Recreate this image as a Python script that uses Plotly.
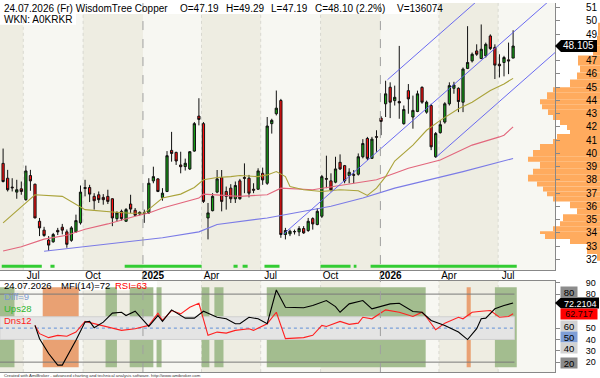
import plotly.graph_objects as go
import pandas as pd

# ---------------- data ----------------
last_date = "2026-07-24"
opens = [39.24, 38.12, 37.45, 37.07, 37.32, 36.50, 38.32, 37.67, 34.87, 34.20,
         33.45, 33.32, 34.18, 34.42, 34.07, 33.43, 34.07, 34.75, 37.42, 37.42,
         36.75, 36.87, 36.67, 36.75, 36.57, 35.07, 35.62, 34.87, 36.17, 35.70,
         35.42, 35.50, 35.50, 37.92, 38.07, 36.67, 37.12, 40.22, 40.07, 39.12,
         39.00, 38.82, 40.17, 42.81, 42.24, 35.12, 35.67, 37.07, 38.17, 37.12,
         37.37, 36.57, 37.92, 38.17, 38.12, 37.29, 37.29, 38.49, 37.74, 42.24,
         42.99, 43.99, 33.87, 33.92, 34.10, 34.07, 34.32, 34.17, 35.07, 34.62,
         35.25, 38.10, 37.92, 37.82, 39.32, 39.07, 38.32, 38.39, 38.42, 39.74,
         41.12, 39.62, 41.26, 42.66, 43.74, 44.99, 43.98, 43.91, 42.24, 44.73,
         42.74, 43.16, 44.98, 43.11, 43.61, 39.74, 41.56, 42.36, 43.74, 44.91,
         44.91, 43.86, 46.41, 46.98, 47.73, 47.16, 47.36, 48.86, 48.00, 46.73,
         46.86, 47.06, 47.19]
highs = [40.36, 38.75, 38.12, 38.00, 37.87, 39.07, 38.75, 37.70, 35.12, 34.45,
         33.75, 33.99, 34.37, 34.67, 34.25, 34.50, 35.37, 37.57, 38.00, 37.62,
         36.99, 37.12, 36.92, 37.25, 36.60, 35.62, 35.75, 35.87, 36.87, 35.87,
         35.62, 35.75, 38.12, 38.99, 38.12, 37.37, 40.17, 41.62, 40.12, 40.12,
         39.60, 40.17, 42.36, 44.16, 42.36, 36.25, 36.99, 38.74, 38.74, 37.49,
         37.67, 37.87, 38.07, 39.24, 38.37, 37.74, 38.87, 38.92, 42.74, 42.61,
         44.74, 44.11, 34.37, 34.24, 34.24, 34.50, 34.50, 35.12, 35.17, 35.87,
         38.37, 39.82, 38.49, 39.74, 39.92, 39.12, 38.87, 38.74, 39.99, 41.07,
         41.24, 41.24, 41.74, 42.81, 45.48, 45.36, 45.11, 48.11, 43.61, 45.23,
         44.36, 44.73, 45.06, 43.98, 43.74, 41.61, 42.49, 43.86, 45.36, 45.40,
         44.98, 46.48, 49.60, 47.61, 48.23, 49.73, 48.36, 48.98, 48.23, 47.48,
         47.36, 48.36, 49.29]
lows = [37.80, 37.12, 37.12, 36.57, 36.87, 36.42, 37.17, 35.10, 33.75, 33.70,
        32.63, 33.25, 33.83, 33.88, 32.87, 33.32, 34.00, 34.62, 36.75, 36.32,
        35.75, 36.25, 36.12, 36.17, 34.50, 34.87, 34.92, 34.82, 35.50, 35.25,
        35.32, 34.75, 35.42, 37.74, 37.07, 36.42, 37.07, 39.37, 39.12, 38.49,
        38.70, 38.74, 40.12, 42.11, 36.25, 33.50, 35.62, 36.99, 35.62, 35.75,
        36.25, 36.25, 36.50, 36.99, 36.67, 36.99, 37.25, 37.62, 37.62, 41.49,
        42.86, 33.62, 33.50, 33.75, 33.87, 33.75, 33.92, 34.07, 34.24, 34.57,
        35.12, 37.37, 37.12, 37.74, 38.74, 37.74, 37.74, 37.74, 38.32, 39.62,
        39.49, 39.57, 40.12, 41.37, 42.74, 42.66, 43.61, 42.61, 42.16, 42.99,
        41.86, 43.11, 43.74, 42.99, 40.24, 39.66, 41.49, 42.24, 43.61, 44.50,
        43.11, 43.11, 46.36, 46.86, 47.36, 47.11, 47.23, 47.80, 45.61, 45.73,
        45.81, 45.98, 47.19]
closes = [37.87, 37.25, 37.40, 37.25, 37.12, 38.67, 37.92, 35.12, 34.37, 33.80,
          33.07, 33.87, 34.07, 34.20, 33.13, 34.37, 34.92, 37.07, 37.35, 36.92,
          36.42, 36.50, 36.50, 36.37, 35.12, 35.50, 35.07, 35.75, 35.79, 35.32,
          35.54, 35.47, 37.74, 38.24, 37.12, 36.99, 39.82, 39.99, 39.42, 38.99,
          39.25, 40.12, 42.24, 42.56, 36.37, 35.50, 36.75, 38.07, 36.37, 36.75,
          36.57, 37.57, 36.57, 38.12, 36.99, 37.22, 38.67, 37.99, 42.06, 42.49,
          43.41, 33.87, 34.17, 34.12, 34.08, 34.32, 33.99, 34.87, 34.67, 35.62,
          38.24, 38.05, 37.24, 38.82, 38.82, 37.92, 38.57, 38.35, 39.74, 40.74,
          39.62, 41.07, 41.22, 42.41, 44.49, 43.86, 44.23, 43.81, 43.31, 44.11,
          43.24, 44.49, 43.86, 43.86, 40.49, 41.49, 42.16, 43.74, 45.11, 45.16,
          43.91, 46.36, 46.86, 47.48, 47.48, 47.86, 48.23, 47.91, 46.66, 46.61,
          47.23, 46.98, 48.10]

# moving averages (bar index, value)
ma_fast_idx = [0, 7, 13, 18, 24, 28, 31, 35, 39, 42, 44, 47, 50, 52, 56, 58, 60, 62, 63, 66,
               70, 74, 78, 80, 82, 84, 86, 90, 93, 96, 100, 103, 107, 110, 112]
ma_fast_val = [34.75, 36.87, 36.75, 35.75, 35.57, 35.47, 35.49, 36.62, 36.92, 37.42, 38.00,
               38.17, 38.24, 38.32, 38.24, 38.37, 38.62, 38.24, 37.49, 37.25, 37.12, 37.25,
               37.17, 36.82, 37.37, 38.24, 39.42, 40.62, 41.74, 42.49, 43.36, 43.86, 44.74,
               45.24, 45.66]
ma_mid_idx = [0, 4, 9, 14, 18, 23, 29, 32, 35, 39, 43, 44, 47, 52, 58, 61, 68, 75, 82, 86,
              89, 96, 103, 109, 110, 112]
ma_mid_val = [32.63, 32.95, 33.52, 33.82, 34.27, 34.67, 35.25, 35.49, 35.87, 36.24, 36.62,
              36.92, 36.87, 36.75, 36.87, 37.37, 37.25, 37.62, 38.00, 38.49, 38.87, 39.49,
              40.62, 41.24, 41.37, 41.99]
ma_slow_idx = [9, 19, 29, 35, 43, 47, 58, 64, 72, 79, 86, 101, 112]
ma_slow_val = [32.60, 33.00, 33.37, 33.62, 34.07, 34.63, 35.12, 35.49, 36.00, 36.62, 37.37,
               38.62, 39.61]

# trend channel (bar index, value) pairs
chan_upper = [(84.4, 45.55), (121.5, 56.76)]
chan_mid = [(61.5, 33.88), (121.5, 51.99)]
chan_lower = [(95.2, 39.74), (121.5, 47.70)]

# green signal strip (bar index spans)
strip_spans = [(-0.3, 8.5), (10.4, 11.3), (26.7, 43.6), (50.6, 51.5), (52.6, 53.7),
               (57.4, 60.7), (69.7, 76.3), (77.0, 77.6), (80.7, 112.8)]

# volume-at-price profile
profile_levels = [49.85, 48.88, 48.13, 47.38, 46.63, 46.11, 45.58, 44.99, 44.61, 44.09,
                  43.71, 43.33, 42.89, 42.51, 42.14, 41.76, 41.46, 41.09, 40.71, 40.26,
                  39.74, 39.37, 38.84, 38.39, 37.87, 37.50, 37.12, 36.75, 36.37, 35.85,
                  35.40, 34.87, 34.50, 34.12, 33.90, 33.53, 33.15, 32.40, 31.88]
profile_vol = [2, 3, 7, 22, 20, 23, 30, 47, 53, 60, 58, 52, 47, 40, 33, 30, 43, 47, 60, 67,
               72, 60, 67, 72, 63, 57, 53, 47, 30, 23, 37, 40, 47, 60, 55, 30, 13, 3]

# lower pane: MFI / RSI (bar index, value)
mfi_idx = [7, 8, 10, 12, 13, 14, 16, 18, 19, 20, 22, 24, 26, 27, 29, 32, 34, 35, 37, 40, 42,
           44, 47, 49, 51, 52, 54, 56, 58, 60, 62, 66, 68, 71, 73, 74, 76, 79, 81, 85, 87,
           90, 92, 94, 97, 100, 102, 104, 105, 106, 108, 110, 112]
mfi_val = [52.4, 40.7, 27.6, 17.4, 17.4, 24.6, 39.3, 55.3, 55.9, 50.4, 55.3, 63.2, 64.0, 61.1,
           64.9, 51.5, 61.1, 55.9, 66.1, 58.8, 58.8, 64.9, 59.6, 58.2, 53.9, 53.9, 59.6, 58.2,
           53.9, 83.6, 68.4, 68.0, 69.9, 74.3, 69.0, 64.0, 71.4, 74.3, 67.0, 71.4, 71.9, 64.6,
           64.0, 56.8, 52.4, 46.5, 39.9, 49.5, 58.2, 58.8, 67.0, 69.9, 72.2]
rsi_idx = [7, 8, 10, 12, 14, 16, 18, 20, 22, 24, 26, 29, 32, 34, 35, 37, 39, 41, 43, 45, 47,
           49, 51, 54, 55, 58, 60, 62, 66, 68, 70, 71, 74, 76, 78, 79, 81, 84, 87, 90, 92,
           93, 95, 97, 100, 101, 103, 105, 107, 109, 111, 112]
rsi_val = [52.4, 45.1, 41.6, 43.6, 42.8, 46.5, 55.9, 53.9, 51.5, 49.5, 48.0, 49.5, 52.4, 63.2,
           56.8, 65.5, 62.6, 68.4, 71.9, 43.6, 46.5, 45.6, 48.0, 49.5, 48.0, 53.9, 64.0, 40.7,
           41.6, 43.6, 52.4, 51.5, 55.9, 53.3, 54.4, 59.6, 58.2, 66.1, 64.0, 60.3, 64.0, 59.6,
           48.6, 54.4, 59.6, 58.2, 64.0, 64.9, 65.5, 59.6, 60.3, 62.7]
green_spans = [(-0.7, 2.5), (22.5, 25.0), (27.8, 33.0), (33.7, 34.8), (43.6, 45.3),
               (46.4, 48.4), (57.9, 92.8), (108.0, 112.8)]
orange_spans = [(8.7, 16.6), (101.8, 102.7)]

tick_dates = ["2024-07-01", "2024-10-01", "2025-01-01", "2025-04-01", "2025-07-01",
              "2025-10-01", "2026-01-01", "2026-04-01", "2026-07-01"]
tick_text = ["Jul", "Oct", "<b>2025</b>", "Apr", "Jul", "Oct", "<b>2026</b>", "Apr", "Jul"]
price_ticks = [32, 33, 34, 35, 36, 37, 38, 39, 40, 41, 42, 43, 44, 45, 46, 47, 49, 50, 51]
osc_ticks = [20, 30, 40, 50, 80, 90]

# ---------------- helpers ----------------
N = len(opens)
end = pd.Timestamp(last_date)
dates = [end - pd.Timedelta(weeks=N - 1 - i) for i in range(N)]


def at(i):
    return (dates[0] + pd.Timedelta(days=7 * i)).strftime("%Y-%m-%d %H:%M")


FONT = "Liberation Sans, Arial, sans-serif"
W, H = 600, 378
XD = 555 / W
PRICE_DOM = [1 - 269 / H, 1.0]
LOW_DOM = [1 - 372 / H, 1 - 280 / H]
LIGHT = "#f7f7f2"
BEIGE = "#eeede2"


def px(x):
    return x / W


def py(y):
    return 1 - y / H


fig = go.Figure()

fig.add_trace(go.Candlestick(
    x=dates, open=opens, high=highs, low=lows, close=closes,
    xaxis="x", yaxis="y",
    increasing=dict(line=dict(color="#111111", width=1), fillcolor="#16a016"),
    decreasing=dict(line=dict(color="#111111", width=1), fillcolor="#ff1010"),
    hoverinfo="skip"))

for idx, val, col in [(ma_slow_idx, ma_slow_val, "#7b7be6"),
                      (ma_mid_idx, ma_mid_val, "#e2667c"),
                      (ma_fast_idx, ma_fast_val, "#aaa33a")]:
    fig.add_trace(go.Scatter(x=[at(i) for i in idx], y=val, mode="lines",
                             line=dict(color=col, width=1.1), xaxis="x", yaxis="y",
                             hoverinfo="skip"))

for ch in (chan_upper, chan_mid, chan_lower):
    fig.add_trace(go.Scatter(x=[at(p[0]) for p in ch], y=[p[1] for p in ch], mode="lines",
                             line=dict(color="#5a5af0", width=0.9), xaxis="x", yaxis="y",
                             hoverinfo="skip"))

sx, sy = [], []
for a, b in strip_spans:
    sx += [at(a), at(b), None]
    sy += [31.47, 31.47, None]
fig.add_trace(go.Scatter(x=sx, y=sy, mode="lines", line=dict(color="#33cc33", width=3),
                         xaxis="x", yaxis="y", hoverinfo="skip"))

fig.add_trace(go.Scatter(x=[at(i) for i in rsi_idx], y=rsi_val, mode="lines",
                         line=dict(color="#ff2020", width=1.1), xaxis="x2", yaxis="y2",
                         hoverinfo="skip"))
fig.add_trace(go.Scatter(x=[at(i) for i in mfi_idx], y=mfi_val, mode="lines",
                         line=dict(color="#000000", width=1.1), xaxis="x2", yaxis="y2",
                         hoverinfo="skip"))

shapes = []
# quarter background bands
q = pd.date_range("2024-04-01", "2026-10-01", freq="QS")
for k in range(len(q) - 1):
    if q[k].month in (4, 10):
        for dom in (PRICE_DOM, LOW_DOM):
            shapes.append(dict(type="rect", xref="x", yref="paper", x0=q[k], x1=q[k + 1],
                               y0=dom[0], y1=dom[1], fillcolor=BEIGE, line_width=0,
                               layer="below"))
# white title backgrounds
shapes.append(dict(type="rect", xref="paper", yref="paper", x0=0, x1=px(437), y0=py(11),
                   y1=1, fillcolor="white", line_width=0, layer="below"))
shapes.append(dict(type="rect", xref="paper", yref="paper", x0=0, x1=px(76), y0=py(22),
                   y1=py(11), fillcolor="white", line_width=0, layer="below"))
shapes.append(dict(type="rect", xref="paper", yref="paper", x0=0, x1=px(157), y0=py(289.5),
                   y1=py(280.5), fillcolor="white", line_width=0, layer="below"))
# volume profile
vmax = max(profile_vol)
for k, v in enumerate(profile_vol):
    shapes.append(dict(type="rect", xref="paper", yref="y", x0=1 - (v / vmax) * (72 / W), x1=1,
                       y0=profile_levels[k + 1], y1=profile_levels[k],
                       fillcolor="#ffab5e", line_width=0, layer="below"))
# quarter grid lines
for d in tick_dates:
    yr = d.endswith("01-01")
    if yr:
        shapes.append(dict(type="line", xref="x", yref="paper", x0=d, x1=d, y0=LOW_DOM[0],
                           y1=1, line=dict(color="#a0a0a0", width=1, dash="dash")))
    else:
        for dom in (PRICE_DOM, LOW_DOM):
            shapes.append(dict(type="line", xref="x", yref="paper", x0=d, x1=d, y0=dom[0],
                               y1=dom[1], line=dict(color="#d8d8d0", width=1, dash="dot"),
                               layer="below"))
# lower pane zones
for a, b in green_spans:
    shapes.append(dict(type="rect", xref="x2", yref="y2", x0=at(a), x1=at(b), y0=15.4, y1=86,
                       fillcolor="#a3bd8f", line_width=0, layer="below"))
for a, b in orange_spans:
    shapes.append(dict(type="rect", xref="x2", yref="y2", x0=at(a), x1=at(b), y0=15.4, y1=86,
                       fillcolor="#e9a173", line_width=0, layer="below"))
shapes.append(dict(type="rect", xref="x2", yref="y2", x0=at(-0.7), x1=at(112.3), y0=40, y1=60,
                   fillcolor="#e4e4e4", line=dict(color="#d0d0d0", width=1), layer="below"))
for lvl in (80, 20):
    shapes.append(dict(type="line", xref="x2", yref="y2", x0=at(-0.7), x1=at(112.3), y0=lvl,
                       y1=lvl, line=dict(color="#7a7a7a", width=1), layer="below"))
shapes.append(dict(type="line", xref="x2", yref="y2", x0=at(-0.7), x1=at(112.3), y0=50, y1=50,
                   line=dict(color="#5f8fd8", width=1, dash="dot"), layer="below"))
# value marker arrows
last_close_lbl = 48.105
hh = 0.45
shapes.append(dict(type="path", xref="paper", yref="y",
                   path=f"M {XD},{last_close_lbl} L {px(561)},{last_close_lbl + hh} "
                        f"L {px(597)},{last_close_lbl + hh} L {px(597)},{last_close_lbl - hh} "
                        f"L {px(561)},{last_close_lbl - hh} Z",
                   fillcolor="black", line_width=0))
mfi_last = 72.2104
h2 = 4.9
shapes.append(dict(type="path", xref="paper", yref="y2",
                   path=f"M {XD},{mfi_last} L {px(561)},{mfi_last + h2} L {px(599)},{mfi_last + h2} "
                        f"L {px(599)},{mfi_last - h2} L {px(561)},{mfi_last - h2} Z",
                   fillcolor="black", line_width=0))

ann = []


def text(x, y, s, color="black", size=10, xanchor="left"):
    ann.append(dict(xref="paper", yref="paper", x=px(x), y=py(y), text=s, showarrow=False,
                    xanchor=xanchor, yanchor="middle",
                    font=dict(family=FONT, size=size, color=color)))


text(2, 6, "24.07.2026 (Fr) WisdomTree Copper")
text(178, 6, "O=47.19")
text(224, 6, "H=49.29")
text(269, 6, "L=47.19")
text(313, 6, "C=48.10 (2.2%)")
text(395, 6, "V=136074")
text(2, 17, "WKN: A0KRKR")
text(578, 43, "48.105", color="white", xanchor="center")
text(2, 284.5, "24.07.2026", size=9.5)
text(59, 284.5, "MFI(14)=72", size=9.5)
text(113, 284.5, "RSI=63", color="#ff0000", size=9.5)
text(2, 296, "Diff=9", color="#7c9ad0", size=9.5)
text(2, 308, "Ups28", color="#2eb82e", size=9.5)
text(2, 320, "Dns12", color="#ff2020", size=9.5)
text(580, 303, "72.2104", color="white", xanchor="center", size=9)
ann.append(dict(xref="paper", yref="paper", x=px(579), y=py(313.5), text="62.717",
                showarrow=False, xanchor="center", yanchor="middle", bgcolor="#ff0000",
                width=36, height=10, borderpad=0,
                font=dict(family=FONT, size=9, color="#200000")))
for lbl, yy, bg in [("80", 291, "#8c8c8c"), ("60", 326, "#d2d2d2"), ("50", 337, "#7f9ed6"),
                    ("40", 348, "#d2d2d2"), ("20", 363, "#8a8a8a")]:
    ann.append(dict(xref="paper", yref="paper", x=px(569), y=py(yy), text=lbl, showarrow=False,
                    xanchor="center", yanchor="middle", bgcolor=bg, width=16, height=10,
                    borderpad=0, font=dict(family=FONT, size=9.5, color="black")))
text(2, 375.5, "Created with AmiBroker - advanced charting and technical analysis software. "
               "http://www.amibroker.com", size=4.3, color="#333333")

fig.update_layout(
    width=W, height=H, margin=dict(l=0, r=0, t=0, b=0),
    paper_bgcolor="white", plot_bgcolor=LIGHT, showlegend=False, hovermode=False,
    font=dict(family=FONT, size=10, color="black"),
    shapes=shapes, annotations=ann,
    xaxis=dict(domain=[0, XD], anchor="y", type="date", range=[at(-0.68), at(121.2)],
               tickvals=tick_dates, ticktext=tick_text, ticks="", showgrid=False,
               showline=True, linecolor="#888888", linewidth=1, zeroline=False,
               rangeslider=dict(visible=False), ticklabelshift=10, ticklabelstandoff=-4,
               tickfont=dict(size=10, color="black")),
    yaxis=dict(domain=PRICE_DOM, anchor="x", side="right", range=[31.2, 51.35],
               tickvals=price_ticks, ticks="outside", ticklen=4, tickcolor="#888888",
               showline=True, linecolor="#888888", showgrid=False, zeroline=False,
               ticklabelstandoff=24, tickfont=dict(size=10, color="black")),
    xaxis2=dict(domain=[0, XD], anchor="y2", matches="x", type="date", showticklabels=False,
                ticks="", showgrid=False, showline=True, mirror=True, linecolor="#888888",
                zeroline=False),
    yaxis2=dict(domain=LOW_DOM, anchor="x2", side="right", range=[11.26, 91.75],
                tickvals=osc_ticks, ticks="outside", ticklen=4,
                tickcolor="#888888", showline=True, linecolor="#888888", showgrid=False,
                zeroline=False, ticklabelstandoff=24, tickfont=dict(size=9, color="black")),
)

fig.write_html("out.html")
